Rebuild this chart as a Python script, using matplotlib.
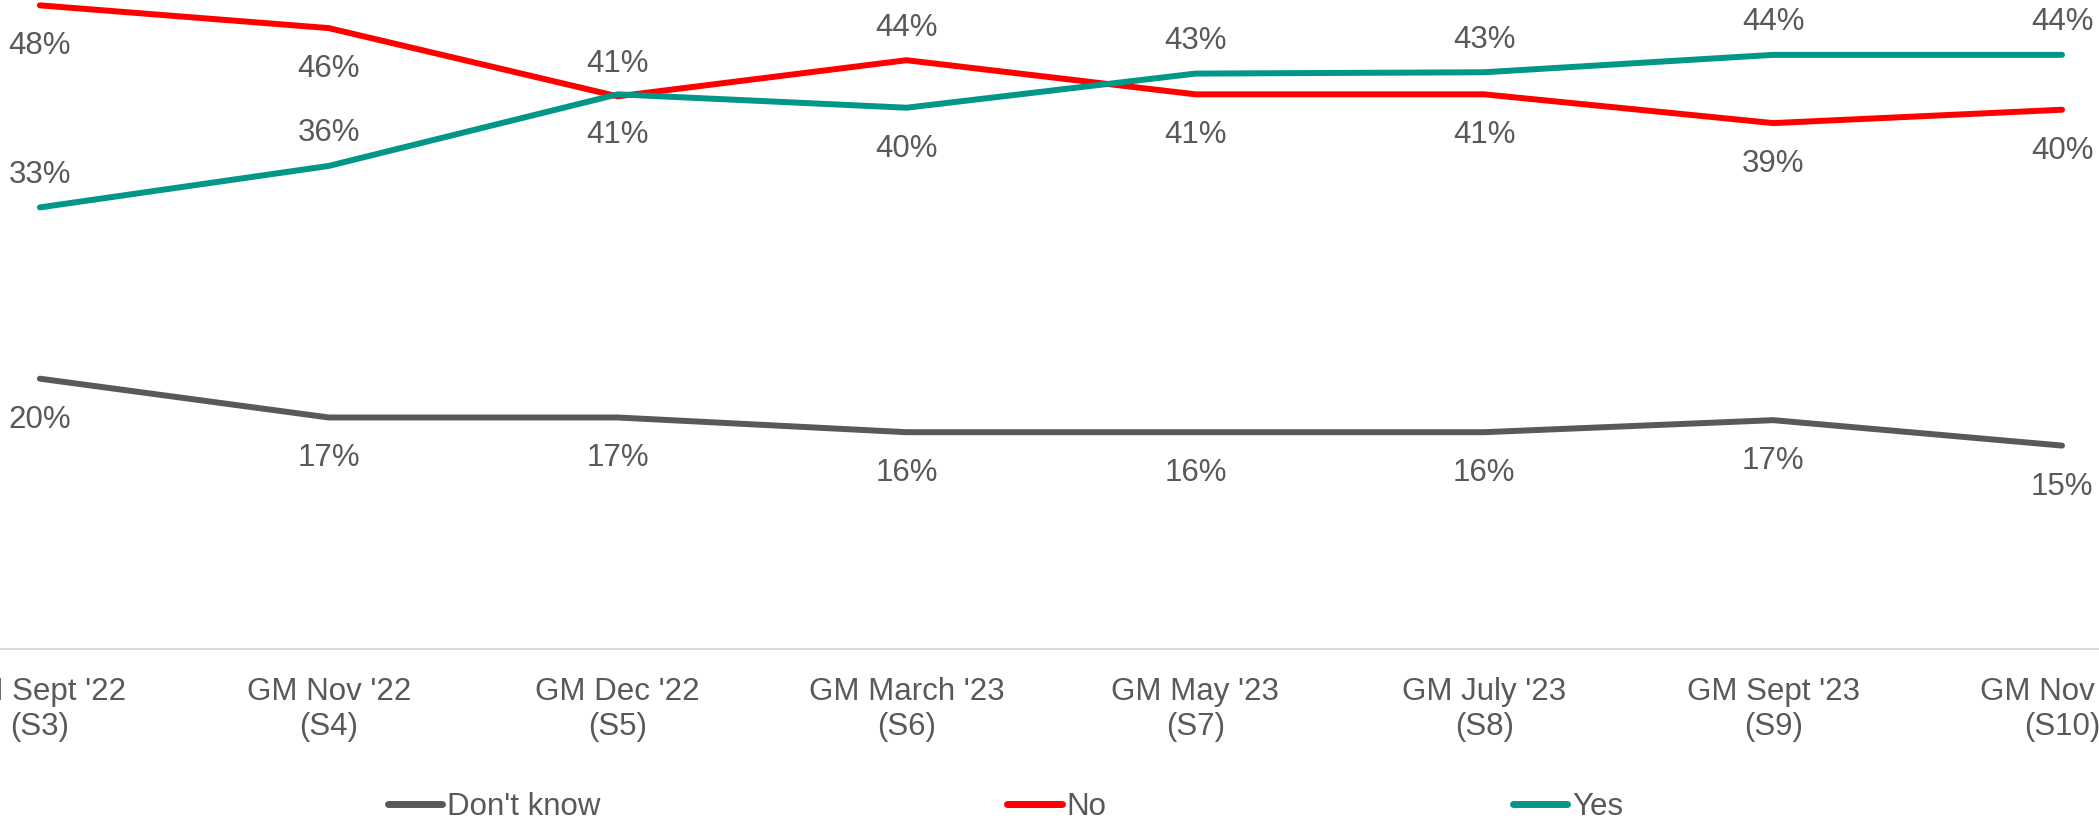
import matplotlib.pyplot as plt
from matplotlib.lines import Line2D

plt.rcParams['font.family'] = ['Liberation Sans', 'DejaVu Sans']

waves = ["GM Sept '22\n(S3)", "GM Nov '22\n(S4)", "GM Dec '22\n(S5)", "GM March '23\n(S6)",
         "GM May '23\n(S7)", "GM July '23\n(S8)", "GM Sept '23\n(S9)", "GM Nov '23\n(S10)"]
dont_know = [20.2, 17.3, 17.3, 16.2, 16.2, 16.2, 17.1, 15.2]
no = [48.1, 46.4, 41.3, 44.0, 41.45, 41.45, 39.3, 40.3]
yes = [33.0, 36.1, 41.45, 40.45, 43.0, 43.1, 44.4, 44.4]

# label side per point: 1 = above the line, -1 = below
no_side = [-1, -1, 1, 1, -1, -1, -1, -1]
yes_side = [1, 1, -1, -1, 1, 1, 1, 1]
dk_side = [-1] * 8

text_col = '#595959'
fig = plt.figure(figsize=(20.99, 8.22), dpi=100)
ax = fig.add_axes([0, 0.2105, 1, 0.7895])

x = list(range(len(waves)))
series = [
    ("Don't know", dont_know, '#595959', dk_side),
    ("No", no, '#FF0000', no_side),
    ("Yes", yes, '#009688', yes_side),
]
for name, vals, col, sides in series:
    ax.plot(x, vals, color=col, lw=4.3, solid_capstyle='round', solid_joinstyle='round',
            clip_on=False, label=name)
    for xi, v, s in zip(x, vals, sides):
        off = 23.5 if s > 0 else -29.5
        ax.annotate(f"{v:.0f}%", (xi, v), xytext=(0, off), textcoords='offset points',
                    ha='center', va='center', fontsize=22.5, color=text_col,
                    annotation_clip=False)

ax.set_xlim(-0.138, 7.128)
ax.set_ylim(0, 48.5)
ax.set_xticks(x)
ax.set_xticklabels(waves, fontsize=22.5, color=text_col)
ax.tick_params(axis='x', length=0, pad=20.5)
ax.set_yticks([])
for sp in ['top', 'left', 'right']:
    ax.spines[sp].set_visible(False)
ax.spines['bottom'].set_color('#D9D9D9')
ax.spines['bottom'].set_linewidth(1.5)

handles = [Line2D([], [], color=c, lw=5, solid_capstyle='round') for _, _, c, _ in series]
leg = fig.legend(handles, [s[0] for s in series], loc='center', bbox_to_anchor=(0.479, 0.018),
                 ncol=3, frameon=False, fontsize=22.5, handlelength=1.75, handletextpad=0.15,
                 columnspacing=13, borderpad=0)
for t in leg.get_texts():
    t.set_color(text_col)

fig.savefig('out.png', dpi=100)
